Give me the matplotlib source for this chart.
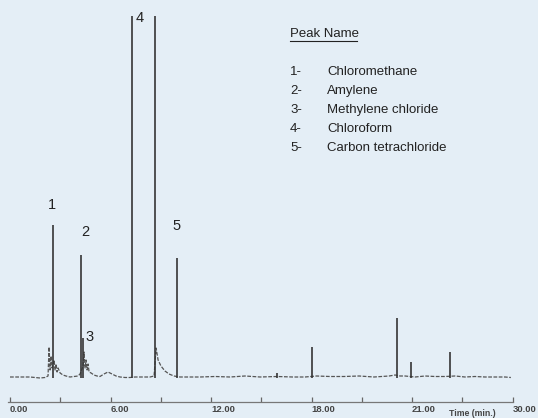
import matplotlib
matplotlib.use("Agg")
import matplotlib.pyplot as plt

# ---- data (time in min, response in arbitrary units) ----
peak_times = [2.57, 4.24, 4.36, 7.28, 8.66, 9.97, 15.94, 18.03, 23.10, 23.94, 26.27]
peak_heights = [153, 123, 40, 362, 362, 120, 5, 31, 60, 16, 26]

base_t = [0.00, 0.60, 1.19, 1.79, 2.09, 2.27, 2.33, 2.39, 2.45, 2.51, 2.63, 2.69, 2.75,
          2.81, 2.87, 2.99, 3.16, 3.34, 3.58, 3.82, 4.06, 4.18, 4.36, 4.42, 4.48, 4.54,
          4.60, 4.66, 4.72, 4.84, 5.01, 5.19, 5.37, 5.61, 5.85, 6.09, 6.33, 6.57, 6.87,
          7.16, 7.46, 7.76, 8.36, 8.60, 8.72, 8.84, 9.01, 9.25, 9.49, 9.79, 10.15, 10.75,
          11.34, 12.24, 13.13, 14.03, 14.93, 15.94, 16.87, 17.61, 18.30, 19.10, 19.94,
          20.84, 21.73, 22.63, 22.99, 23.28, 23.58, 24.18, 24.78, 25.37, 25.97, 26.57,
          27.16, 27.76, 28.36, 28.96, 29.55, 29.90]
base_y = [1, 1, 1, 0, 0.5, 2, 31, 8, 22, 10, 18, 8, 14,
          6, 10, 5, 3, 2, 1, 1.5, 2, 4, 12, 26, 10, 18,
          8, 14, 6, 5, 3, 2, 1.5, 4, 6, 4, 2, 1, 0.5,
          0.5, 1, 1, 1, 2, 30, 18, 12, 7, 4, 2, 1, 1,
          1, 1.5, 1, 2, 1, 1.5, 1, 1, 2, 1.5, 1.5,
          2, 1, 2, 3, 2, 2, 1, 2, 1.5, 1.5, 2,
          1, 1.5, 1, 1, 1, 0.5]

peak_labels = ["1", "2", "3", "4", "5"]
label_t = [2.50, 4.47, 4.75, 7.76, 9.91]
label_y = [173, 146, 41, 360, 152]

legend_title = "Peak Name"
legend_nums = ["1-", "2-", "3-", "4-", "5-"]
legend_names = ["Chloromethane", "Amylene", "Methylene chloride", "Chloroform",
                "Carbon tetrachloride"]

tick_pos = [0, 3, 6, 9, 12, 15, 18, 21, 24, 27, 30]
label_pos = [0, 6, 12, 18, 24, 30]
label_txt = ["0.00", "6.00", "12.00", "18.00", "21.00", "30.00"]

bg = "#e4eef6"
fig = plt.figure(figsize=(5.38, 4.18), dpi=100, facecolor=bg)
W, H = 538, 418
ax = fig.add_axes([8 / W, (H - 402) / H, (535 - 8) / W, 402 / H])
ax.set_facecolor(bg)
ax.set_xlim(-0.12, 31.34)
ax.set_ylim(-24, 378)

ax.plot(base_t, base_y, color="#555555", lw=0.9, ls=(0, (3, 1.2)))
ax.vlines(peak_times, 0, peak_heights, color="#353535", lw=1.2)

for s, t, y in zip(peak_labels, label_t, label_y):
    ax.text(t, y, s, fontsize=10.5, family="Liberation Sans", color="#222222",
            ha="center", va="center")

for sp in ["top", "right", "left"]:
    ax.spines[sp].set_visible(False)
ax.spines["bottom"].set_bounds(-0.12, 30)
ax.spines["bottom"].set_color("#777777")
ax.spines["bottom"].set_linewidth(0.9)
ax.set_yticks([])
ax.set_xticks(tick_pos)
ax.set_xticklabels([])
ax.tick_params(axis="x", direction="in", length=3.5, width=0.9, color="#666666")
for p, s in zip(label_pos, label_txt):
    fig.text((10 + p * 16.75) / W, 1 - 409 / H, s, fontsize=6.8, fontweight="bold",
             family="Liberation Sans", color="#444444", ha="left", va="center")
fig.text(472 / W, 1 - 413.5 / H, "Time (min.)", fontsize=6.3, fontweight="bold",
         family="Liberation Sans", color="#444444", ha="center", va="center")

fig.text(290 / W, 1 - 34 / H, legend_title, fontsize=9.5, family="Liberation Sans",
         color="#222222", ha="left", va="center")
fig.add_artist(plt.Line2D([290 / W, 357 / W], [1 - 41 / H, 1 - 41 / H],
                          color="#222222", lw=0.8))
for i, (n, nm) in enumerate(zip(legend_nums, legend_names)):
    y = 1 - (72 + i * 18.9) / H
    fig.text(290 / W, y, n, fontsize=9.5, family="Liberation Sans", color="#222222",
             ha="left", va="center")
    fig.text(327 / W, y, nm, fontsize=9.5, family="Liberation Sans", color="#222222",
             ha="left", va="center")

fig.savefig("out.png", dpi=100, facecolor=bg)
